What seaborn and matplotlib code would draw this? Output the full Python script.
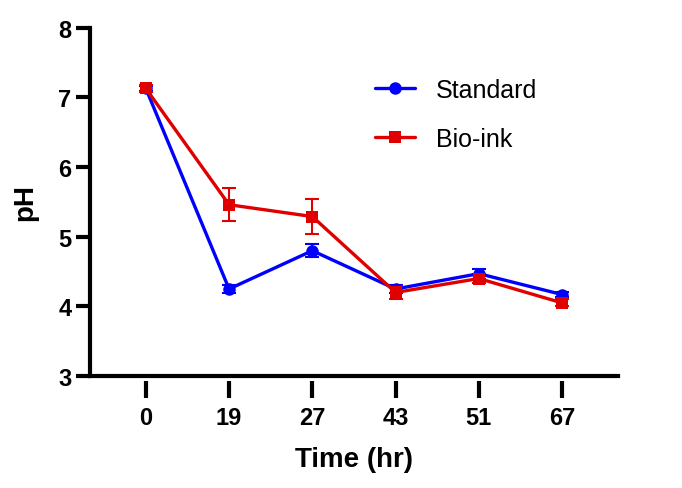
import numpy as np
import pandas as pd
import matplotlib
matplotlib.use("Agg")
import matplotlib.pyplot as plt
import seaborn as sns

time_labels = ["0", "19", "27", "43", "51", "67"]

standard_ph = [7.13, 4.25, 4.80, 4.25, 4.47, 4.17]
standard_err = [0.04, 0.06, 0.09, 0.06, 0.07, 0.04]

bioink_ph = [7.13, 5.46, 5.29, 4.20, 4.40, 4.05]
bioink_err = [0.05, 0.24, 0.25, 0.09, 0.06, 0.05]

series_names = ["Standard", "Bio-ink"]
colors = {"Standard": "#0000FF", "Bio-ink": "#E00000"}
markers = {"Standard": "o", "Bio-ink": "s"}

sns.set_theme(style="ticks")
plt.rcParams["font.family"] = ["Liberation Sans", "DejaVu Sans"]
plt.rcParams["text.color"] = "black"
plt.rcParams["axes.labelcolor"] = "black"
plt.rcParams["xtick.color"] = "black"
plt.rcParams["ytick.color"] = "black"

df = pd.DataFrame({
    "pos": list(range(len(time_labels))) * 2,
    "pH": standard_ph + bioink_ph,
    "err": standard_err + bioink_err,
    "group": ["Standard"] * 6 + ["Bio-ink"] * 6,
})

fig = plt.figure(figsize=(6.82, 4.89), dpi=100)
ax = fig.add_axes([0.132, 0.229, 0.774, 0.712])

for name in series_names:
    sub = df[df["group"] == name]
    ax.errorbar(sub["pos"], sub["pH"], yerr=sub["err"], fmt="none",
                ecolor=colors[name], elinewidth=1.5, capsize=5, capthick=1.5, zorder=3)

sns.lineplot(data=df, x="pos", y="pH", hue="group", style="group",
             hue_order=series_names, style_order=series_names,
             palette=colors, markers=markers, dashes=False,
             linewidth=2.4, markersize=9, markeredgewidth=0, ax=ax, zorder=4)

ax.set_xlim(-0.67, 5.67)
ax.set_ylim(3, 8)
ax.set_yticks([3, 4, 5, 6, 7, 8])

for s in ["top", "right"]:
    ax.spines[s].set_visible(False)
for s in ["left", "bottom"]:
    ax.spines[s].set_linewidth(3)
    ax.spines[s].set_color("black")

ax.tick_params(axis="y", width=3, length=10, labelsize=17, color="black")
for lab in ax.get_yticklabels():
    lab.set_fontweight("bold")

# detached x ticks below the axis line
ax.set_xticks([])
ax.set_xlabel("")
sec = ax.secondary_xaxis(-0.014)
sec.spines["bottom"].set_visible(False)
sec.set_xticks(range(len(time_labels)))
sec.set_xticklabels(time_labels, fontsize=17, fontweight="bold")
sec.tick_params(axis="x", width=3, length=12, pad=6, color="black")
sec.set_xlabel("Time (hr)", fontsize=20, fontweight="bold", labelpad=12)

ax.set_ylabel("pH", fontsize=20, fontweight="bold", labelpad=14)

handles, labels = ax.get_legend_handles_labels()
ax.legend(handles, labels, loc="upper left", bbox_to_anchor=(0.497, 0.92),
          frameon=False, fontsize=18, handlelength=1.6, handletextpad=0.85,
          labelspacing=1.0)

fig.savefig("out.png", dpi=100)
